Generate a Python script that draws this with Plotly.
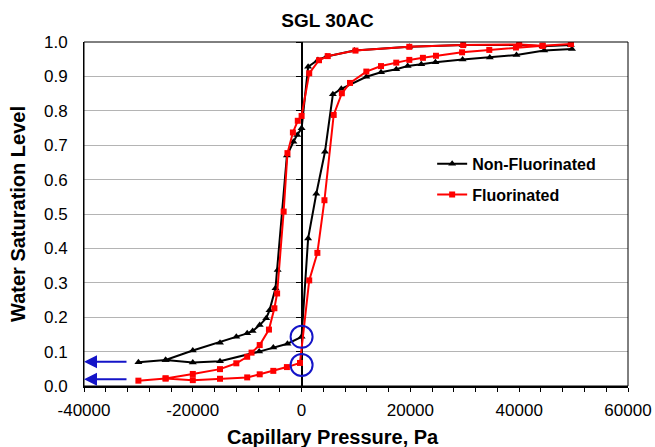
import plotly.graph_objects as go

# ---------------- data ----------------
# Non-Fluorinated: upper path (from high pressure back to negative pressure)
nf_top_x = [49500, 44300, 39700, 29600, 19800, 9700, 4600, 3000, 1200, 0, -800, -1500, -2700,
            -4400, -4800, -5900, -6500, -7700, -9000, -10000, -12000, -15000, -20000, -25000, -30000]
nf_top_y = [0.991, 0.988, 0.991, 0.991, 0.986, 0.975, 0.958, 0.948, 0.928, 0.749, 0.730, 0.710, 0.670,
            0.337, 0.284, 0.220, 0.197, 0.177, 0.160, 0.153, 0.143, 0.126, 0.103, 0.0756, 0.069]
# Non-Fluorinated: lower path (negative pressure towards zero)
nf_low_x = [-25000, -20000, -15000, -7800, -5200, -2600, 0]
nf_low_y = [0.0756, 0.068, 0.072, 0.100, 0.112, 0.123, 0.143]
# Non-Fluorinated: right branch (positive pressure)
nf_right_x = [1200, 2700, 4300, 5750, 7300, 11900, 14600, 17400, 19500, 22000, 24600, 29600,
              34600, 39500, 44600, 49700]
nf_right_y = [0.429, 0.559, 0.681, 0.848, 0.864, 0.899, 0.912, 0.921, 0.930, 0.935, 0.941, 0.949,
              0.955, 0.962, 0.975, 0.980]

# Fluorinated
f_top_x = [49500, 44300, 40000, 29700, 19800, 9900, 4800, 3200, 1400, 0, -700, -1600, -2600,
           -3300, -4500, -5000, -6000, -7700, -9200, -10000, -12000, -15000, -20000, -25000, -30000]
f_top_y = [0.994, 0.989, 0.993, 0.991, 0.986, 0.975, 0.959, 0.947, 0.909, 0.785, 0.771, 0.737, 0.677,
           0.507, 0.269, 0.226, 0.164, 0.119, 0.097, 0.085, 0.066, 0.049, 0.035, 0.022, 0.0155]
f_low_x = [-25000, -20000, -15000, -10000, -7700, -5200, -2700, -300]
f_low_y = [0.022, 0.017, 0.021, 0.025, 0.034, 0.044, 0.055, 0.067]
f_right_x = [1400, 2900, 4200, 5900, 7400, 8900, 11900, 14600, 17400, 19800, 22300, 24700,
             29500, 34500, 39400, 44300, 49500]
f_right_y = [0.307, 0.387, 0.540, 0.788, 0.851, 0.881, 0.914, 0.930, 0.940, 0.948, 0.954, 0.960,
             0.970, 0.977, 0.984, 0.989, 0.994]

series_names = ["Non-Fluorinated", "Fluorinated"]
title_text = "SGL 30AC"
x_title = "Capillary Pressure, Pa"
y_title = "Water Saturation Level"
x_tick_vals = [-40000, -20000, 0, 20000, 40000, 60000]
x_tick_text = ["-40000", "-20000", "0", "20000", "40000", "60000"]

# circled points and arrow levels
circle_y = [0.143, 0.061]
arrow_y = [0.0706, 0.0195]

FONT = "Liberation Sans, Arial, Helvetica, sans-serif"
BLUE = "#1414c8"

fig = go.Figure()

fig.add_trace(go.Scatter(
    x=nf_top_x + nf_low_x + nf_right_x,
    y=nf_top_y + nf_low_y + nf_right_y,
    mode="lines+markers", name=series_names[0], legendgroup="a",
    line=dict(color="black", width=2),
    marker=dict(symbol="triangle-up", size=7, color="black"),
))
fig.add_trace(go.Scatter(
    x=f_top_x + f_low_x + f_right_x,
    y=f_top_y + f_low_y + f_right_y,
    mode="lines+markers", name=series_names[1], legendgroup="b",
    line=dict(color="#ff0000", width=2),
    marker=dict(symbol="square", size=6, color="#ff0000"),
))
# empty trace so that the secondary (zero-crossing) y axis is drawn
fig.add_trace(go.Scatter(x=[], y=[], yaxis="y2", showlegend=False, hoverinfo="skip"))

fig.update_layout(
    width=655, height=447,
    margin=dict(l=84, r=27, t=42, b=61, autoexpand=False),
    paper_bgcolor="white", plot_bgcolor="white",
    font=dict(family=FONT, size=17, color="black"),
    showlegend=True,
    legend=dict(x=0.64, y=0.695, xanchor="left", yanchor="top",
                bgcolor="rgba(0,0,0,0)", font=dict(size=16, family=FONT, weight="bold"),
                traceorder="grouped", tracegroupgap=7, itemwidth=30),
    title=dict(text="<b>" + title_text + "</b>", x=0.5, xref="container", xanchor="center",
               y=1 - 20 / 447, yref="container", yanchor="middle",
               font=dict(size=19, family=FONT)),
    xaxis=dict(range=[-40000, 60000], tickmode="array", tickvals=x_tick_vals, ticktext=x_tick_text,
               showgrid=False, zeroline=False, automargin=False,
               ticks="outside", ticklen=4, tickcolor="black", tickwidth=1,
               showline=True, linecolor="black", linewidth=2,
               tickfont=dict(size=17), ticklabelstandoff=4,
               minor=dict(dtick=4000, tick0=0, ticks="outside", ticklen=4, tickcolor="black", showgrid=False)),
    yaxis=dict(range=[0, 1], dtick=0.1, tick0=0, tickformat=".1f", showgrid=True, automargin=False,
               gridcolor="#b4b4b4", gridwidth=1, zeroline=False, ticks="",
               showline=True, linecolor="black", linewidth=1,
               tickfont=dict(size=17), ticklabelstandoff=12),
    yaxis2=dict(range=[0, 1], dtick=0.1, tick0=0, overlaying="y", anchor="free", position=0.4,
                side="left", showgrid=False, zeroline=False, showticklabels=False, automargin=False,
                ticks="outside", ticklen=5, tickcolor="black", tickwidth=1,
                showline=True, linecolor="black", linewidth=2, layer="below traces"),
)

# frame around plot area
fig.add_shape(type="rect", xref="paper", yref="paper", x0=0, y0=0, x1=1, y1=1,
              line=dict(color="black", width=1), layer="above")

# blue circles around the zero-pressure points
for cy in circle_y:
    fig.add_shape(type="circle", xref="x", yref="y", xsizemode="pixel", ysizemode="pixel",
                  xanchor=0, yanchor=cy, x0=-11, x1=11, y0=-11, y1=11,
                  line=dict(color=BLUE, width=2), layer="above")

# blue arrows pointing to the y axis
for ay_ in arrow_y:
    fig.add_annotation(x=-40000, y=ay_, xref="x", yref="y", text="", showarrow=True,
                       ax=44, ay=0, arrowhead=2, arrowsize=1.3, arrowwidth=2, arrowcolor=BLUE)

# axis titles
fig.add_annotation(text="<b>" + x_title + "</b>", xref="paper", yref="paper",
                   x=(333 - 84) / 544, y=(386 - 437) / 344, xanchor="center", yanchor="middle",
                   showarrow=False, font=dict(size=20, family=FONT))
fig.add_annotation(text="<b>" + y_title + "</b>", xref="paper", yref="paper",
                   x=(18 - 84) / 544, y=0.5, xanchor="center", yanchor="middle", textangle=-90,
                   showarrow=False, font=dict(size=20, family=FONT))

fig.write_html("out.html")
